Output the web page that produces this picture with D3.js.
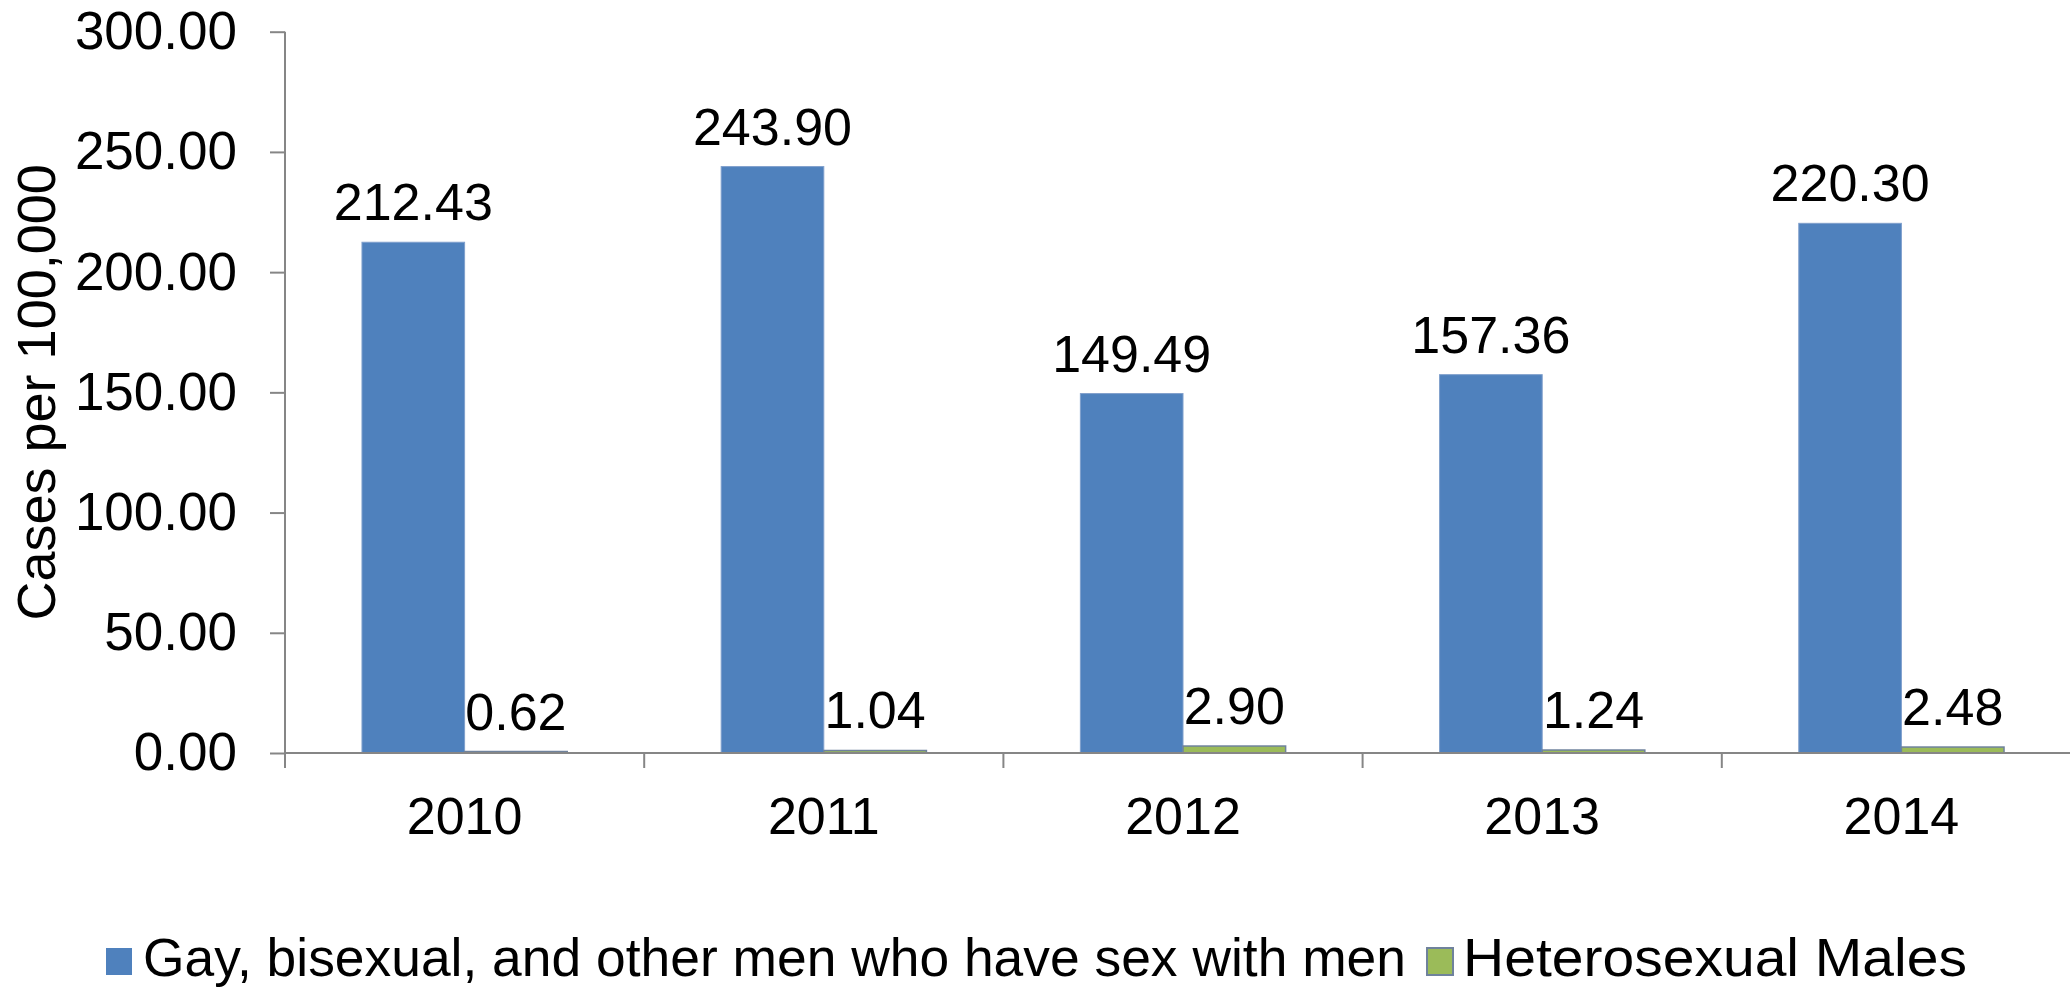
<!DOCTYPE html>
<html>
<head>
<meta charset="utf-8">
<script src="https://cdn.jsdelivr.net/npm/d3@7/dist/d3.min.js"></script>
<style>
  html, body { margin: 0; padding: 0; background: #fff; }
  svg { display: block; font-family: "Liberation Sans", Arial, sans-serif; }
</style>
</head>
<body>
<svg id="chart" width="2070" height="988"></svg>
<script>
const years = ["2010", "2011", "2012", "2013", "2014"];
const seriesNames = ["Gay, bisexual, and other men who have sex with men", "Heterosexual Males"];
const msmValues = [212.43, 243.90, 149.49, 157.36, 220.30];
const heteroValues = [0.62, 1.04, 2.90, 1.24, 2.48];
const yTicks = [0, 50, 100, 150, 200, 250, 300];
const yLabel = "Cases per 100,000";
const colors = ["#4F81BD", "#9BBB59"];
const strokes = ["#7F9FCC", "#6F829C"];

const svg = d3.select("#chart");
const mLeft = 285, mRight = 2081, mTop = 31.7, mBottom = 753;
const FS = 52;

const x0 = d3.scaleBand().domain(years).range([mLeft, mRight]).paddingInner(0).paddingOuter(0);
const x1 = d3.scaleBand().domain([0, 1]).range([0, x0.bandwidth()]).paddingInner(0).paddingOuter(0.75);
const y = d3.scaleLinear().domain([0, 300]).range([mBottom, mTop]);

const rows = years.map((yr, i) => ({ year: yr, vals: [msmValues[i], heteroValues[i]] }));

// bars
const g = svg.append("g");
const groups = g.selectAll("g.grp").data(rows).enter().append("g")
  .attr("transform", d => `translate(${x0(d.year)},0)`);
groups.selectAll("rect").data(d => d.vals.map((v, k) => ({ v, k }))).enter().append("rect")
  .attr("x", d => x1(d.k))
  .attr("width", x1.bandwidth())
  .attr("y", d => y(d.v))
  .attr("height", d => y(0) - y(d.v))
  .attr("fill", d => colors[d.k])
  .attr("stroke", d => strokes[d.k])
  .attr("stroke-width", d => d.k === 1 ? 1.5 : 1);

// value labels
groups.selectAll("text.val").data(d => d.vals.map((v, k) => ({ v, k }))).enter().append("text")
  .attr("class", "val")
  .attr("x", d => x1(d.k) + x1.bandwidth() / 2)
  .attr("y", d => y(d.v) - 22)
  .attr("text-anchor", "middle")
  .attr("font-size", FS)
  .attr("fill", "#000")
  .text(d => d3.format(".2f")(d.v));

// y axis
const yAxis = d3.axisLeft(y).tickValues(yTicks).tickSize(15).tickSizeOuter(0).tickPadding(33)
  .tickFormat(d3.format(".2f"));
const ya = svg.append("g").attr("transform", `translate(${mLeft},0)`).call(yAxis);
ya.select(".domain").remove();
ya.selectAll(".tick line").attr("stroke", "#868686").attr("stroke-width", 2);
ya.selectAll(".tick text").attr("font-size", 53).attr("fill", "#000")
  .attr("font-family", "'Liberation Sans', Arial, sans-serif");
svg.append("line").attr("x1", mLeft).attr("x2", mLeft).attr("y1", mTop).attr("y2", mBottom + 15)
  .attr("stroke", "#868686").attr("stroke-width", 2);

// x axis
const xAxis = d3.axisBottom(x0).tickSize(0).tickPadding(44);
const xa = svg.append("g").attr("transform", `translate(0,${mBottom})`).call(xAxis);
xa.select(".domain").remove();
xa.selectAll(".tick text").attr("font-size", FS).attr("fill", "#000")
  .attr("font-family", "'Liberation Sans', Arial, sans-serif");
svg.append("line").attr("x1", mLeft).attr("x2", mRight).attr("y1", mBottom).attr("y2", mBottom)
  .attr("stroke", "#868686").attr("stroke-width", 2);
const bounds = years.map(d => x0(d)).concat([mRight]);
svg.selectAll("line.xb").data(bounds).enter().append("line")
  .attr("class", "xb")
  .attr("x1", d => d).attr("x2", d => d).attr("y1", mBottom).attr("y2", mBottom + 15)
  .attr("stroke", "#868686").attr("stroke-width", 2);

// y label
svg.append("text")
  .attr("transform", `translate(55,${(mTop + mBottom) / 2}) rotate(-90)`)
  .attr("text-anchor", "middle")
  .attr("font-size", 54)
  .attr("fill", "#000")
  .text(yLabel);

// legend
const legendItems = [
  { name: seriesNames[0], sx: 106, tx: 143, w: 1263 },
  { name: seriesNames[1], sx: 1427, tx: 1463, w: 504 }
];
const lg = svg.append("g");
legendItems.forEach((it, k) => {
  lg.append("rect").attr("x", it.sx).attr("y", 948).attr("width", 26).attr("height", 27)
    .attr("fill", colors[k]).attr("stroke", strokes[k]).attr("stroke-width", k === 1 ? 2 : 0);
  lg.append("text").attr("x", it.tx).attr("y", 976).attr("font-size", 54).attr("fill", "#000")
    .attr("textLength", it.w).attr("lengthAdjust", "spacingAndGlyphs").text(it.name);
});
</script>
</body>
</html>
